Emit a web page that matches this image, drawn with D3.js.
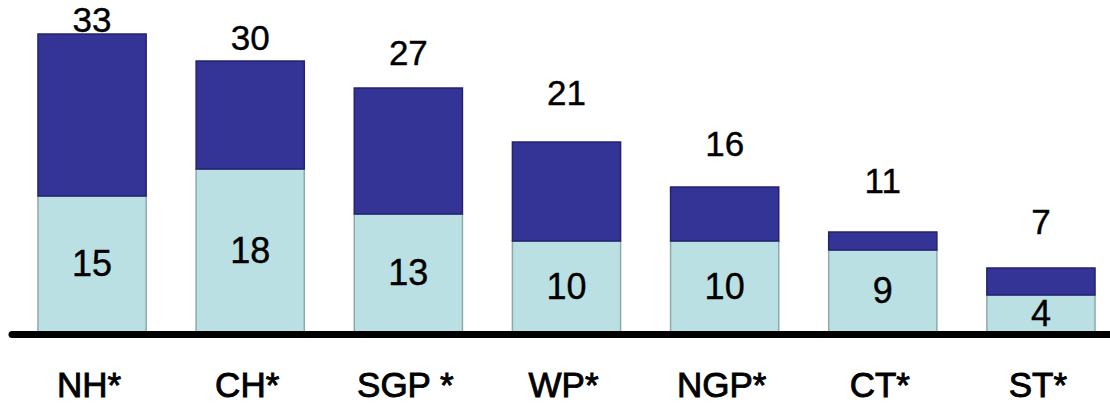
<!DOCTYPE html>
<html>
<head>
<meta charset="utf-8">
<script src="https://cdn.jsdelivr.net/npm/d3@7"></script>
<style>
  body { margin: 0; background: #fff; }
  svg { display: block; font-family: Arial, "Liberation Sans", sans-serif; }
</style>
</head>
<body>
<svg id="chart"></svg>
<script>
var width = 1110;
var height = 405;

// Data
var categories = ["NH*", "CH*", "SGP *", "WP*", "NGP*", "CT*", "ST*"];
var lowerValues = [15, 18, 13, 10, 10, 9, 4];   // light part
var totalValues = [33, 30, 27, 21, 16, 11, 7];  // whole bar

// Total labels were placed by hand in the original, gap above bar top (px)
var totalLabelGap = [2, 11, 23, 37, 31, 39, 34];

var baseY = 331;

let svg = d3.select("#chart").attr("width", width).attr("height", height);

var x = d3.scaleBand()
  .domain(categories)
  .range([-12, 1145])
  .paddingInner(0.316)
  .paddingOuter(0.316);

var y = d3.scaleLinear()
  .domain([0, 36.78])
  .range([baseY, 0]);

var rows = categories.map(function (c, i) {
  return { cat: c, low: lowerValues[i], total: totalValues[i], gap: totalLabelGap[i] };
});

// Light (bottom) segments
svg.append("g")
  .selectAll("rect")
  .data(rows)
  .enter()
  .append("rect")
  .attr("x", d => x(d.cat))
  .attr("y", d => y(d.low))
  .attr("width", x.bandwidth())
  .attr("height", d => baseY - y(d.low) + 2)
  .attr("fill", "#bae0e3")
  .attr("stroke", "#8ea9aa")
  .attr("stroke-width", 1.5);

// Dark (top) segments
svg.append("g")
  .selectAll("rect")
  .data(rows)
  .enter()
  .append("rect")
  .attr("x", d => x(d.cat))
  .attr("y", d => y(d.total))
  .attr("width", x.bandwidth())
  .attr("height", d => y(d.low) - y(d.total))
  .attr("fill", "#343497")
  .attr("stroke", "#23236f")
  .attr("stroke-width", 1.5);

// Baseline
svg.append("line")
  .attr("x1", 12)
  .attr("x2", 1112)
  .attr("y1", baseY + 3.5)
  .attr("y2", baseY + 3.5)
  .attr("stroke", "#000")
  .attr("stroke-width", 7)
  .attr("stroke-linecap", "round");

// Values inside the light part
svg.append("g")
  .selectAll("text")
  .data(rows)
  .enter()
  .append("text")
  .attr("x", d => x(d.cat) + x.bandwidth() / 2)
  .attr("y", d => (y(d.low) + baseY) / 2)
  .attr("dy", "0.36em")
  .attr("text-anchor", "middle")
  .attr("font-size", "36px")
  .attr("fill", "#000")
  .attr("stroke", "#000")
  .attr("stroke-width", 0.4)
  .text(d => d.low);

// Totals above the bars
svg.append("g")
  .selectAll("text")
  .data(rows)
  .enter()
  .append("text")
  .attr("x", d => x(d.cat) + x.bandwidth() / 2)
  .attr("y", d => y(d.total) - d.gap)
  .attr("text-anchor", "middle")
  .attr("font-size", "35px")
  .attr("fill", "#000")
  .attr("stroke", "#000")
  .attr("stroke-width", 0.4)
  .text(d => d.total);

// Category labels
svg.append("g")
  .selectAll("text")
  .data(rows)
  .enter()
  .append("text")
  .attr("x", d => x(d.cat) + x.bandwidth() / 2 - 3)
  .attr("y", 397)
  .attr("text-anchor", "middle")
  .attr("font-size", "35px")
  .attr("fill", "#000")
  .attr("stroke", "#000")
  .attr("stroke-width", 0.9)
  .text(d => d.cat);
</script>
</body>
</html>
